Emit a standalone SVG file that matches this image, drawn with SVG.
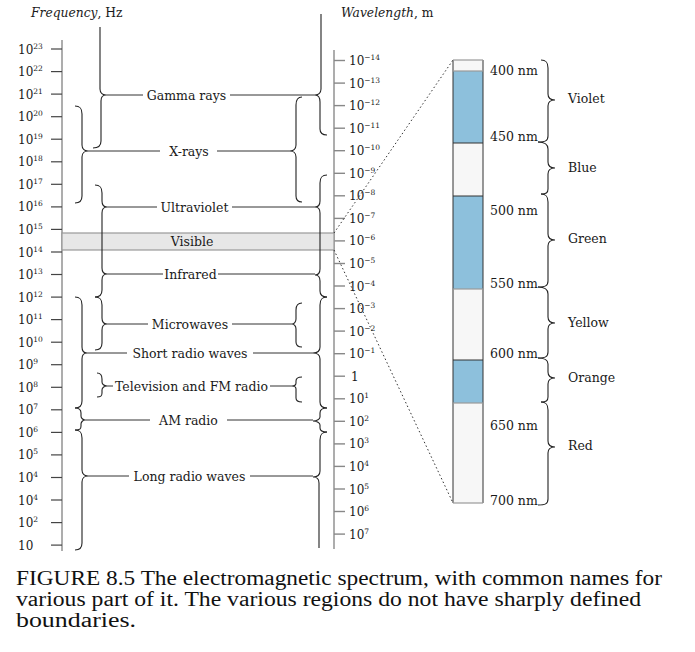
<svg xmlns="http://www.w3.org/2000/svg" width="695" height="652" viewBox="0 0 695 652">
<style>
.lbl{font-family:"DejaVu Serif",serif;font-size:12.5px;fill:#1a1a1a}
.tk{font-family:"DejaVu Serif",serif;font-size:12px;fill:#1a1a1a}
.sp{font-size:7.5px}
.br{fill:none;stroke:#222;stroke-width:1.1}
.ln{stroke:#333;stroke-width:1;fill:none}
.ax{stroke:#999;stroke-width:1.6;fill:none}
.tl{stroke:#444;stroke-width:1.2}
.tr{stroke:#888;stroke-width:1.4}
.hd{font-family:"DejaVu Serif",serif;font-size:12.3px;fill:#1a1a1a}
.cap{font-family:"Liberation Serif",serif;font-size:20px;fill:#111}
.blue{fill:#8dc0dc}
.wh{fill:#f7f7f7}
.dot{stroke:#333;stroke-width:1;stroke-dasharray:1.5 2.5;fill:none}
</style>

<g id="headers">
<text class="hd" x="31" y="17"><tspan font-style="italic">Frequency</tspan>, Hz</text>
<text class="hd" x="341" y="17"><tspan font-style="italic">Wavelength</tspan>, m</text>
</g>

<g id="frequency-axis">
<line class="ax" x1="62" y1="40" x2="62" y2="551"/>
<g class="tl">
<line x1="51" y1="49" x2="62" y2="49"/><line x1="51" y1="71.6" x2="62" y2="71.6"/><line x1="51" y1="94.1" x2="62" y2="94.1"/><line x1="51" y1="116.7" x2="62" y2="116.7"/><line x1="51" y1="139.2" x2="62" y2="139.2"/><line x1="51" y1="161.8" x2="62" y2="161.8"/><line x1="51" y1="184.3" x2="62" y2="184.3"/><line x1="51" y1="206.9" x2="62" y2="206.9"/><line x1="51" y1="229.4" x2="62" y2="229.4"/><line x1="51" y1="252" x2="62" y2="252"/><line x1="51" y1="274.5" x2="62" y2="274.5"/><line x1="51" y1="297.1" x2="62" y2="297.1"/><line x1="51" y1="319.6" x2="62" y2="319.6"/><line x1="51" y1="342.2" x2="62" y2="342.2"/><line x1="51" y1="364.7" x2="62" y2="364.7"/><line x1="51" y1="387.3" x2="62" y2="387.3"/><line x1="51" y1="409.8" x2="62" y2="409.8"/><line x1="51" y1="432.4" x2="62" y2="432.4"/><line x1="51" y1="454.9" x2="62" y2="454.9"/><line x1="51" y1="477.5" x2="62" y2="477.5"/><line x1="51" y1="500" x2="62" y2="500"/><line x1="51" y1="522.6" x2="62" y2="522.6"/><line x1="51" y1="545.1" x2="62" y2="545.1"/>
</g>
<g class="tk">
<text x="18" y="53.5">10<tspan class="sp" dy="-5">23</tspan></text>
<text x="18" y="76.1">10<tspan class="sp" dy="-5">22</tspan></text>
<text x="18" y="98.6">10<tspan class="sp" dy="-5">21</tspan></text>
<text x="18" y="121.2">10<tspan class="sp" dy="-5">20</tspan></text>
<text x="18" y="143.7">10<tspan class="sp" dy="-5">19</tspan></text>
<text x="18" y="166.3">10<tspan class="sp" dy="-5">18</tspan></text>
<text x="18" y="188.8">10<tspan class="sp" dy="-5">17</tspan></text>
<text x="18" y="211.4">10<tspan class="sp" dy="-5">16</tspan></text>
<text x="18" y="233.9">10<tspan class="sp" dy="-5">15</tspan></text>
<text x="18" y="256.5">10<tspan class="sp" dy="-5">14</tspan></text>
<text x="18" y="279">10<tspan class="sp" dy="-5">13</tspan></text>
<text x="18" y="301.6">10<tspan class="sp" dy="-5">12</tspan></text>
<text x="18" y="324.1">10<tspan class="sp" dy="-5">11</tspan></text>
<text x="18" y="346.7">10<tspan class="sp" dy="-5">10</tspan></text>
<text x="18" y="369.2">10<tspan class="sp" dy="-5">9</tspan></text>
<text x="18" y="391.8">10<tspan class="sp" dy="-5">8</tspan></text>
<text x="18" y="414.3">10<tspan class="sp" dy="-5">7</tspan></text>
<text x="18" y="436.9">10<tspan class="sp" dy="-5">6</tspan></text>
<text x="18" y="459.4">10<tspan class="sp" dy="-5">5</tspan></text>
<text x="18" y="482">10<tspan class="sp" dy="-5">4</tspan></text>
<text x="18" y="504.5">10<tspan class="sp" dy="-5">4</tspan></text>
<text x="18" y="527.1">10<tspan class="sp" dy="-5">2</tspan></text>
<text x="18" y="549.6">10</text>
</g>
</g>

<g id="wavelength-axis">
<line class="ax" x1="334" y1="50" x2="334" y2="549"/>
<g class="tr">
<line x1="334" y1="60.5" x2="345" y2="60.5"/><line x1="334" y1="83.1" x2="345" y2="83.1"/><line x1="334" y1="105.6" x2="345" y2="105.6"/><line x1="334" y1="128.2" x2="345" y2="128.2"/><line x1="334" y1="150.7" x2="345" y2="150.7"/><line x1="334" y1="173.3" x2="345" y2="173.3"/><line x1="334" y1="195.8" x2="345" y2="195.8"/><line x1="334" y1="218.4" x2="345" y2="218.4"/><line x1="334" y1="240.9" x2="345" y2="240.9"/><line x1="334" y1="263.5" x2="345" y2="263.5"/><line x1="334" y1="286" x2="345" y2="286"/><line x1="334" y1="308.6" x2="345" y2="308.6"/><line x1="334" y1="331.1" x2="345" y2="331.1"/><line x1="334" y1="353.7" x2="345" y2="353.7"/><line x1="334" y1="376.2" x2="345" y2="376.2"/><line x1="334" y1="398.8" x2="345" y2="398.8"/><line x1="334" y1="421.3" x2="345" y2="421.3"/><line x1="334" y1="443.9" x2="345" y2="443.9"/><line x1="334" y1="466.4" x2="345" y2="466.4"/><line x1="334" y1="489" x2="345" y2="489"/><line x1="334" y1="511.5" x2="345" y2="511.5"/><line x1="334" y1="534.1" x2="345" y2="534.1"/>
</g>
<g class="tk">
<text x="349" y="65">10<tspan class="sp" dy="-5">−14</tspan></text>
<text x="349" y="87.6">10<tspan class="sp" dy="-5">−13</tspan></text>
<text x="349" y="110.1">10<tspan class="sp" dy="-5">−12</tspan></text>
<text x="349" y="132.7">10<tspan class="sp" dy="-5">−11</tspan></text>
<text x="349" y="155.2">10<tspan class="sp" dy="-5">−10</tspan></text>
<text x="349" y="177.8">10<tspan class="sp" dy="-5">−9</tspan></text>
<text x="349" y="200.3">10<tspan class="sp" dy="-5">−8</tspan></text>
<text x="349" y="222.9">10<tspan class="sp" dy="-5">−7</tspan></text>
<text x="349" y="245.4">10<tspan class="sp" dy="-5">−6</tspan></text>
<text x="349" y="268">10<tspan class="sp" dy="-5">−5</tspan></text>
<text x="349" y="290.5">10<tspan class="sp" dy="-5">−4</tspan></text>
<text x="349" y="313.1">10<tspan class="sp" dy="-5">−3</tspan></text>
<text x="349" y="335.6">10<tspan class="sp" dy="-5">−2</tspan></text>
<text x="349" y="358.2">10<tspan class="sp" dy="-5">−1</tspan></text>
<text x="351" y="380.7">1</text>
<text x="349" y="403.3">10<tspan class="sp" dy="-5">1</tspan></text>
<text x="349" y="425.8">10<tspan class="sp" dy="-5">2</tspan></text>
<text x="349" y="448.4">10<tspan class="sp" dy="-5">3</tspan></text>
<text x="349" y="470.9">10<tspan class="sp" dy="-5">4</tspan></text>
<text x="349" y="493.5">10<tspan class="sp" dy="-5">5</tspan></text>
<text x="349" y="516">10<tspan class="sp" dy="-5">6</tspan></text>
<text x="349" y="538.6">10<tspan class="sp" dy="-5">7</tspan></text>
</g>
</g>

<g id="visible-band">
<rect x="62" y="233" width="272" height="17" fill="#e7e7e7" stroke="#999" stroke-width="1.2"/>
<text class="lbl" x="192" y="246" text-anchor="middle">Visible</text>
</g>

<g id="connectors">
<g class="br">
<path d="M100,27 L100,89 C100,93 103,95 106,95 C103,95 101,97 101,101 L101,141 C101,146 98,148 93,148"/>
<path d="M95,185 C100,185 102,187 102,193 L102,201 C102,205 104,207 107,207 C104,207 102,209 102,213 L102,268 C102,272 104,274 107,274 C104,274 102,276 102,280 L102,290 C102,295 100,297 95,297"/>
<path d="M95,297 C100,297 102,299 102,305 L102,318 C102,322 104,324 107,324 C104,324 102,326 102,330 L102,343 C102,348 100,350 95,350"/>
<path d="M97,373 C101,373 102,375 102,379 L102,382 C102,384 104,386 107,386 C104,386 102,388 102,390 L102,393 C102,396 101,397 97,397"/>
<path d="M75,106 C80,106 82,108 82,114 L82,145 C82,149 85,151 88,151 C85,151 82,153 82,157 L82,196 C82,201 80,203 75,203"/>
<path d="M75,297 C80,297 82,299 82,305 L82,347 C82,351 84,353 87,353 C84,353 82,355 82,359 L82,401 C82,406 80,408 75,408"/>
<path d="M75,408 C80,408 81,410 81,413 L81,416 C81,418 83,420 85,420 C83,420 81,422 81,424 L81,426 C81,429 80,430 75,430"/>
<path d="M75,430 C80,430 82,432 82,438 L82,470 C82,474 85,476 88,476 C85,476 82,478 82,482 L82,543 C82,548 80,550 75,550"/>
<path d="M321,14 L321,89 C321,93 318,95 315,95 C318,95 320,97 320,102 L320,129 C320,133 322,135 327,135"/>
<path d="M327,175 C322,175 320,177 320,183 L320,201 C320,205 318,207 315,207 C318,207 320,209 320,213 L320,269 C320,273 318,275 315,275 C318,275 320,277 320,281 L320,291 C320,295 322,297 327,297"/>
<path d="M327,297 C322,297 320,299 320,305 L320,347 C320,351 317,353 313,353 C317,353 320,355 320,359 L320,402 C320,406 322,408 327,408"/>
<path d="M327,408 C322,408 320,410 320,413 L320,417 C320,419 317,421 313,421 C317,421 320,423 320,425 L320,428 C320,431 322,432 327,432"/>
<path d="M327,432 C322,432 320,434 320,440 L320,471 C320,475 317,477 313,477 C317,477 319,479 319,483 L319,548"/>
<path d="M302,97 C298,97 296,99 296,105 L296,145 C296,149 293,151 290,151 C293,151 296,153 296,157 L296,196 C296,200 298,202 302,202"/>
<path d="M302,303 C298,303 296,305 296,310 L296,319 C296,322 294,324 292,324 C294,324 296,326 296,329 L296,342 C296,345 298,347 302,347"/>
<path d="M302,377 C298,377 296,378 296,381 L296,383 C296,385 294,386 292,386 C294,386 296,387 296,389 L296,398 C296,401 298,402 302,402"/>
<path d="M541,60 C546,60 548,62 548,68 L548,94 C548,98 551,100 555,100 C551,100 548,102 548,106 L548,136 C548,141 545,142 538,142"/>
<path d="M538,142 C545,142 548,144 548,149 L548,162 C548,166 551,168 555,168 C551,168 548,170 548,174 L548,189 C548,193 546,194 541,194"/>
<path d="M541,194 C546,194 548,196 548,202 L548,234 C548,238 551,240 555,240 C551,240 548,242 548,246 L548,281 C548,286 545,287 538,287"/>
<path d="M538,287 C545,287 548,289 548,294 L548,317 C548,321 551,323 555,323 C551,323 548,325 548,329 L548,352 C548,357 545,358 538,358"/>
<path d="M538,358 C545,358 548,360 548,364 L548,372 C548,376 551,378 555,378 C551,378 548,380 548,384 L548,397 C548,401 546,402 541,402"/>
<path d="M541,402 C546,402 548,404 548,410 L548,441 C548,445 551,447 555,447 C551,447 548,449 548,453 L548,499 C548,504 545,505 538,505"/>
</g>
<g class="ln">
<line x1="106" y1="95" x2="143" y2="95"/><line x1="230" y1="95" x2="315" y2="95"/>
<line x1="88" y1="151" x2="160" y2="151"/><line x1="217" y1="151" x2="290" y2="151"/>
<line x1="107" y1="207" x2="157" y2="207"/><line x1="232" y1="207" x2="315" y2="207"/>
<line x1="107" y1="274" x2="163" y2="274"/><line x1="218" y1="274" x2="315" y2="274"/>
<line x1="107" y1="324" x2="148" y2="324"/><line x1="232" y1="324" x2="292" y2="324"/>
<line x1="87" y1="353" x2="127" y2="353"/><line x1="253" y1="353" x2="313" y2="353"/>
<line x1="107" y1="386" x2="113" y2="386"/><line x1="270" y1="386" x2="292" y2="386"/>
<line x1="85" y1="420" x2="150" y2="420"/><line x1="227" y1="420" x2="313" y2="420"/>
<line x1="88" y1="476" x2="129" y2="476"/><line x1="250" y1="476" x2="313" y2="476"/>
</g>
<line class="dot" x1="334" y1="233" x2="453" y2="60"/>
<line class="dot" x1="334" y1="250" x2="453" y2="503"/>
</g>

<g id="band-labels" class="lbl" text-anchor="middle">
<text id="gamma" x="186.5" y="99.5">Gamma rays</text>
<text id="xrays" x="189" y="155.5">X-rays</text>
<text id="uv" x="194.5" y="211.5">Ultraviolet</text>
<text id="ir" x="190.5" y="278.5">Infrared</text>
<text id="micro" x="190" y="328.5">Microwaves</text>
<text id="shortradio" x="190" y="357.5">Short radio waves</text>
<text id="tvfm" x="191.5" y="390.5">Television and FM radio</text>
<text id="am" x="188.5" y="424.5">AM radio</text>
<text id="longradio" x="189.5" y="480.5">Long radio waves</text>
</g>

<g id="colour-bar">
<rect class="wh" x="453" y="60" width="30" height="443"/>
<rect class="blue" x="453" y="71" width="30" height="72"/>
<rect class="blue" x="453" y="196" width="30" height="93"/>
<rect class="blue" x="453" y="360" width="30" height="43"/>
<g stroke="#333" stroke-width="1">
<line x1="453" y1="60" x2="453" y2="503"/><line x1="483" y1="60" x2="483" y2="503"/>
<line x1="453" y1="143" x2="483" y2="143"/><line x1="453" y1="196" x2="483" y2="196"/>
<line x1="453" y1="360" x2="483" y2="360"/>
</g>
<g stroke="#999" stroke-width="1.2">
<line x1="453" y1="60" x2="483" y2="60"/><line x1="453" y1="71" x2="483" y2="71"/>
<line x1="453" y1="289" x2="483" y2="289"/><line x1="453" y1="403" x2="483" y2="403"/>
<line x1="453" y1="503" x2="483" y2="503"/>
</g>
</g>

<g id="nm-labels" class="lbl">
<text x="490" y="75">400 nm</text>
<text x="490" y="141">450 nm</text>
<text x="490" y="215">500 nm</text>
<text x="490" y="288">550 nm</text>
<text x="490" y="358">600 nm</text>
<text x="490" y="430">650 nm</text>
<text x="490" y="505">700 nm</text>
</g>

<g id="colour-labels" class="lbl">
<text x="568" y="103">Violet</text>
<text x="568" y="172">Blue</text>
<text x="568" y="243">Green</text>
<text x="568" y="327">Yellow</text>
<text x="568" y="382">Orange</text>
<text x="568" y="450">Red</text>
</g>

<g id="caption" class="cap">
<text x="16" y="585" textLength="646" lengthAdjust="spacingAndGlyphs">FIGURE 8.5 The electromagnetic spectrum, with common names for</text>
<text x="16" y="606" textLength="625" lengthAdjust="spacingAndGlyphs">various part of it. The various regions do not have sharply defined</text>
<text x="16" y="627" textLength="120" lengthAdjust="spacingAndGlyphs">boundaries.</text>
</g>
</svg>
